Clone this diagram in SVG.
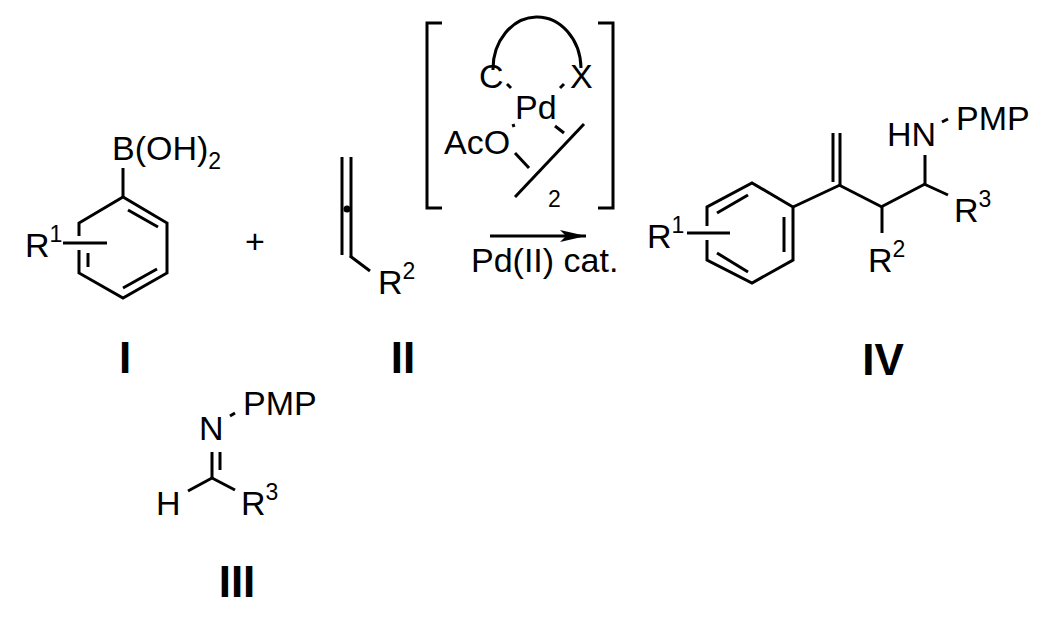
<svg xmlns="http://www.w3.org/2000/svg" width="1050" height="626" viewBox="0 0 1050 626">
<style>
line,path,polyline{stroke:#000;stroke-width:3;fill:none;stroke-linecap:butt}
text{font-family:"Liberation Sans",Arial,sans-serif;font-size:34px;fill:#000}
.s{font-size:23px}
.b{font-weight:bold;font-size:44px;text-anchor:middle}
</style>
<defs><marker id="ah" viewBox="0 0 26 12" refX="26" refY="6" markerWidth="26" markerHeight="12" markerUnits="userSpaceOnUse" orient="auto"><path d="M0,0 L26,6 L0,12 L6,6 Z" style="fill:#000;stroke:none"/></marker></defs>
<rect width="1050" height="626" fill="#fff"/>
<g id="I">
<polyline points="79,236 79,223 123,197 167,223 167,273 123,298 79,273 79,250"/>
<line x1="128" y1="210" x2="158" y2="227"/>
<line x1="123" y1="288" x2="157" y2="269"/>
<line x1="88" y1="253" x2="88" y2="267"/>
<line x1="63" y1="243" x2="107" y2="243"/>
<line x1="123" y1="197" x2="123" y2="168"/>
<text x="112" y="160">B(OH)<tspan class="s" dy="9">2</tspan></text>
<text x="25" y="257">R<tspan class="s" dy="-15">1</tspan></text>
<text x="255" y="253" text-anchor="middle">+</text>
<text class="b" x="125" y="373">I</text>
</g>
<g id="II">
<line x1="342" y1="157" x2="342" y2="255"/>
<line x1="351" y1="157" x2="351" y2="257"/>
<circle cx="347" cy="209" r="3.5"/>
<line x1="350" y1="256" x2="370" y2="271"/>
<text x="378" y="294">R<tspan class="s" dy="-15">2</tspan></text>
<text class="b" x="403" y="373">II</text>
</g>
<g id="catalyst">
<polyline points="442,23 427,23 427,208 442,208"/>
<polyline points="598,23 613,23 613,208 598,208"/>
<path d="M493,70 A44,52 0 0 1 581,68"/>
<text x="479" y="88">C</text>
<text x="570" y="88">X</text>
<line x1="507" y1="84" x2="511" y2="88"/>
<line x1="560" y1="88" x2="564" y2="84"/>
<text x="515" y="119">Pd</text>
<text x="444" y="154">AcO</text>
<line x1="513" y1="124" x2="514" y2="127"/>
<line x1="555" y1="126" x2="564" y2="133"/>
<line x1="515" y1="153" x2="529" y2="168"/>
<line x1="515" y1="197" x2="584" y2="124"/>
<text class="s" x="548" y="207">2</text>
<line x1="490" y1="236" x2="586" y2="236" marker-end="url(#ah)"/>
<text x="471" y="272">Pd(II) cat.</text>
</g>
<g id="III">
<text x="199" y="440">N</text>
<line x1="230" y1="416" x2="235" y2="413"/>
<text x="243" y="415">PMP</text>
<line x1="212" y1="452" x2="212" y2="479"/>
<line x1="220" y1="452" x2="220" y2="470"/>
<line x1="212" y1="478" x2="188" y2="491"/>
<line x1="212" y1="478" x2="235" y2="490"/>
<text x="156" y="515">H</text>
<text x="241" y="515">R<tspan class="s" dy="-15">3</tspan></text>
<text class="b" x="237" y="597">III</text>
</g>
<g id="IV">
<polyline points="707,226 707,207 752,183 793,207 793,260 752,283 707,260 707,240"/>
<line x1="717" y1="213" x2="748" y2="195"/>
<line x1="784" y1="217" x2="784" y2="252"/>
<line x1="717" y1="253" x2="748" y2="272"/>
<line x1="687" y1="233" x2="730" y2="233"/>
<text x="647" y="248">R<tspan class="s" dy="-15">1</tspan></text>
<line x1="793" y1="207" x2="840" y2="185"/>
<line x1="840" y1="133" x2="840" y2="186"/>
<line x1="833" y1="133" x2="833" y2="182"/>
<line x1="839" y1="185" x2="882" y2="207"/>
<line x1="882" y1="206" x2="882" y2="233"/>
<text x="868" y="272">R<tspan class="s" dy="-15">2</tspan></text>
<line x1="881" y1="207" x2="925" y2="184"/>
<line x1="925" y1="185" x2="925" y2="155"/>
<text x="887" y="146">HN</text>
<line x1="942" y1="122" x2="948" y2="119"/>
<text x="956" y="130">PMP</text>
<line x1="924" y1="184" x2="948" y2="195"/>
<text x="954" y="222">R<tspan class="s" dy="-15">3</tspan></text>
<text class="b" x="883" y="375">IV</text>
</g>
</svg>
